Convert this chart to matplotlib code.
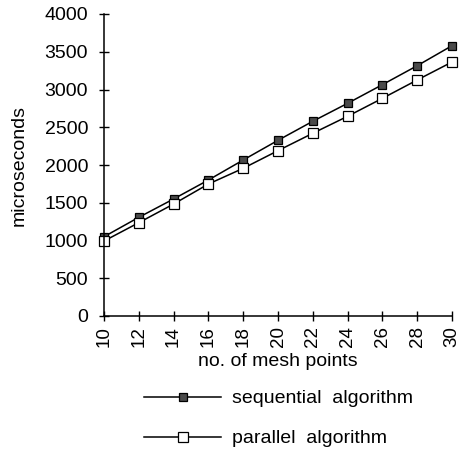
import numpy as np
import matplotlib.pyplot as plt

plt.rcParams['font.family'] = ['Liberation Sans', 'DejaVu Sans']

mesh_points = [10, 12, 14, 16, 18, 20, 22, 24, 26, 28, 30]
sequential = [1050, 1307, 1550, 1801, 2066, 2327, 2579, 2817, 3064, 3315, 3580]
parallel = [993, 1236, 1483, 1748, 1956, 2190, 2420, 2645, 2883, 3126, 3364]
y_ticks = [0, 500, 1000, 1500, 2000, 2500, 3000, 3500, 4000]

fig = plt.figure(figsize=(4.6, 4.51), dpi=100)
ax = fig.add_axes([104 / 460, 1 - 316 / 451, 348 / 460, 302 / 451])

ax.plot(mesh_points, sequential, color='black', lw=1.1, marker='s', markersize=6,
        markerfacecolor='#4a4a4a', markeredgecolor='black', markeredgewidth=0.9,
        label='sequential  algorithm', clip_on=False)
ax.plot(mesh_points, parallel, color='black', lw=1.1, marker='s', markersize=7,
        markerfacecolor='white', markeredgecolor='black', markeredgewidth=0.9,
        label='parallel  algorithm', clip_on=False)

ax.set_xlim(10, 30)
ax.set_ylim(0, 4000)
ax.set_xticks(mesh_points)
ax.set_xticklabels([str(m) for m in mesh_points], rotation=90, fontsize=13.5)
ax.set_yticks(y_ticks)
ax.set_yticklabels([str(v) for v in y_ticks], fontsize=14)
ax.tick_params(direction='inout', length=7, width=1, color='black', pad=4)
ax.tick_params(axis='y', pad=8)
for side in ['top', 'right']:
    ax.spines[side].set_visible(False)
for side in ['left', 'bottom']:
    ax.spines[side].set_linewidth(1.1)

ax.set_ylabel('microseconds', fontsize=14, labelpad=12)
ax.set_xlabel('no. of mesh points', fontsize=14, labelpad=4)

leg = ax.legend(loc='upper left', bbox_to_anchor=(134 / 460, 1 - 380 / 451),
                bbox_transform=fig.transFigure, frameon=False, fontsize=14,
                handlelength=4.0, handletextpad=0.55, labelspacing=1.15, borderpad=0)

fig.savefig('out.png', dpi=100)
